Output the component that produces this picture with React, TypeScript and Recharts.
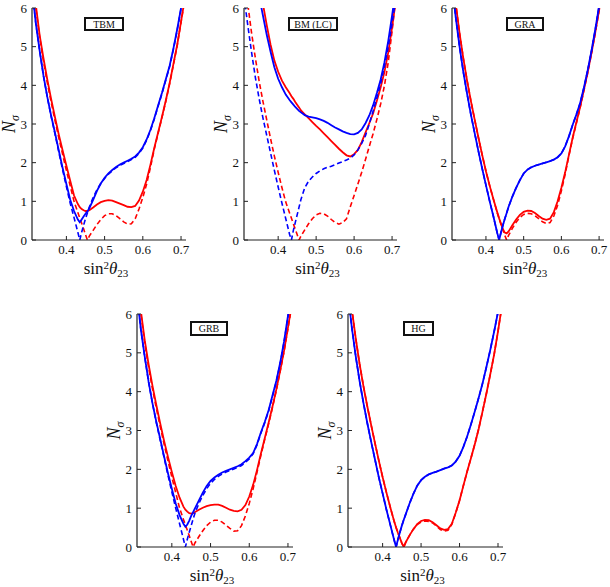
import React from "react";
import { Label, Line, LineChart, XAxis, YAxis } from "recharts";

// shared abscissa: sin^2(theta_23), with extra samples near the minima
const SIN2_TH23 = [
  0.31, 0.32, 0.33, 0.34, 0.35, 0.36, 0.37, 0.38, 0.39, 0.4, 0.41, 0.42, 0.43,
  0.435, 0.44, 0.445, 0.45, 0.455, 0.46, 0.47, 0.48, 0.49, 0.5, 0.51, 0.52,
  0.53, 0.54, 0.55, 0.56, 0.57, 0.58, 0.59, 0.6, 0.61, 0.62, 0.63, 0.64, 0.65,
  0.66, 0.67, 0.68, 0.69, 0.7, 0.71,
];
const X_TICKS = [0.4, 0.5, 0.6, 0.7];
const Y_TICKS = [0, 1, 2, 3, 4, 5, 6];

// TBM
const TBM_RED_SOLID = [6.9, 6.08, 5.3, 4.7, 4.15, 3.65, 3.18, 2.73, 2.32, 1.92, 1.53, 1.15, 0.93, 0.85, 0.8, 0.77, 0.75, 0.75, 0.77, 0.84, 0.92, 0.98, 1.01, 1.03, 1.02, 0.98, 0.94, 0.9, 0.86, 0.85, 0.88, 1.02, 1.25, 1.55, 1.95, 2.38, 2.78, 3.18, 3.6, 4.05, 4.55, 5.05, 5.65, 6.25];
const TBM_RED_DASHED = [6.8, 6.0, 5.25, 4.62, 4.07, 3.57, 3.1, 2.65, 2.22, 1.8, 1.4, 1.0, 0.71, 0.57, 0.43, 0.29, 0.14, 0.0, 0.1, 0.25, 0.4, 0.53, 0.63, 0.68, 0.68, 0.63, 0.55, 0.47, 0.41, 0.42, 0.55, 0.8, 1.1, 1.45, 1.88, 2.35, 2.76, 3.16, 3.58, 4.03, 4.53, 5.03, 5.63, 6.23];
const TBM_BLUE_SOLID = [6.5, 5.6, 4.9, 4.25, 3.7, 3.22, 2.78, 2.32, 1.87, 1.45, 1.04, 0.75, 0.53, 0.46, 0.53, 0.61, 0.68, 0.74, 0.82, 1.04, 1.27, 1.46, 1.61, 1.72, 1.81, 1.89, 1.95, 2.0, 2.05, 2.1, 2.16, 2.26, 2.4, 2.6, 2.85, 3.15, 3.48, 3.8, 4.15, 4.5, 4.95, 5.45, 6.0, 6.6];
const TBM_BLUE_DASHED = [6.5, 5.6, 4.9, 4.25, 3.7, 3.2, 2.75, 2.28, 1.82, 1.38, 0.95, 0.58, 0.2, 0.0, 0.2, 0.38, 0.55, 0.7, 0.85, 1.1, 1.3, 1.46, 1.59, 1.7, 1.79, 1.87, 1.93, 1.98, 2.03, 2.08, 2.14, 2.24, 2.38, 2.58, 2.83, 3.13, 3.46, 3.78, 4.13, 4.48, 4.93, 5.43, 5.98, 6.58];

// BM (LC)
const BM_RED_SOLID = [9.8, 8.9, 8.0, 7.2, 6.55, 6.1, 5.55, 5.05, 4.64, 4.35, 4.12, 3.95, 3.8, 3.72, 3.65, 3.57, 3.5, 3.43, 3.35, 3.25, 3.15, 3.05, 2.95, 2.86, 2.76, 2.66, 2.56, 2.46, 2.36, 2.27, 2.19, 2.16, 2.22, 2.33, 2.53, 2.78, 3.02, 3.27, 3.6, 3.95, 4.35, 4.85, 5.5, 6.2];
const BM_RED_DASHED = [6.9, 6.1, 5.35, 4.7, 4.1, 3.58, 3.1, 2.62, 2.17, 1.75, 1.35, 0.98, 0.7, 0.56, 0.42, 0.28, 0.14, 0.0, 0.1, 0.26, 0.42, 0.55, 0.65, 0.69, 0.68, 0.62, 0.53, 0.45, 0.41, 0.45, 0.55, 0.86, 1.15, 1.45, 1.75, 2.08, 2.42, 2.75, 3.12, 3.52, 4.0, 4.6, 5.4, 6.3];
const BM_BLUE_SOLID = [9.3, 8.4, 7.6, 6.9, 6.3, 5.8, 5.3, 4.87, 4.47, 4.17, 3.95, 3.76, 3.62, 3.56, 3.5, 3.44, 3.39, 3.34, 3.3, 3.23, 3.19, 3.17, 3.15, 3.12, 3.08, 3.03, 2.97, 2.91, 2.86, 2.81, 2.77, 2.74, 2.73, 2.77, 2.86, 3.02, 3.22, 3.48, 3.8, 4.15, 4.6, 5.15, 5.8, 6.5];
const BM_BLUE_DASHED = [6.3, 5.55, 4.85, 4.2, 3.65, 3.15, 2.7, 2.25, 1.8, 1.37, 0.95, 0.55, 0.15, 0.0, 0.25, 0.45, 0.65, 0.85, 1.05, 1.35, 1.52, 1.63, 1.72, 1.79, 1.84, 1.88, 1.91, 1.95, 1.99, 2.03, 2.07, 2.12, 2.2, 2.33, 2.5, 2.7, 3.0, 3.33, 3.68, 4.05, 4.5, 5.0, 5.6, 6.25];

// GRA
const GRA_RED_SOLID = [7.0, 6.1, 5.35, 4.7, 4.12, 3.6, 3.12, 2.65, 2.2, 1.78, 1.4, 1.05, 0.72, 0.56, 0.42, 0.28, 0.19, 0.17, 0.22, 0.38, 0.53, 0.65, 0.73, 0.76, 0.75, 0.7, 0.62, 0.55, 0.52, 0.55, 0.72, 1.0, 1.35, 1.75, 2.2, 2.65, 3.05, 3.45, 3.9, 4.35, 4.85, 5.38, 5.95, 6.55];
const GRA_RED_DASHED = [7.0, 6.1, 5.35, 4.7, 4.12, 3.6, 3.12, 2.65, 2.2, 1.78, 1.4, 1.05, 0.7, 0.55, 0.4, 0.26, 0.12, 0.0, 0.12, 0.3, 0.46, 0.58, 0.66, 0.69, 0.68, 0.63, 0.55, 0.47, 0.43, 0.45, 0.62, 0.9, 1.27, 1.7, 2.18, 2.63, 3.03, 3.43, 3.88, 4.33, 4.83, 5.36, 5.93, 6.53];
const GRA_BLUE_SOLID = [6.6, 5.75, 5.0, 4.35, 3.78, 3.25, 2.77, 2.3, 1.85, 1.42, 1.0, 0.6, 0.18, 0.0, 0.2, 0.38, 0.55, 0.7, 0.86, 1.12, 1.35, 1.55, 1.72, 1.82, 1.88, 1.92, 1.95, 1.98, 2.01, 2.04, 2.08, 2.14, 2.24, 2.42, 2.68, 2.98, 3.25, 3.55, 3.95, 4.4, 4.9, 5.45, 6.05, 6.7];
const GRA_BLUE_DASHED = GRA_BLUE_SOLID;

// GRB
const GRB_RED_SOLID = [6.9, 6.08, 5.32, 4.7, 4.15, 3.65, 3.18, 2.73, 2.32, 1.93, 1.57, 1.27, 1.04, 0.96, 0.91, 0.87, 0.86, 0.87, 0.9, 0.96, 1.01, 1.05, 1.08, 1.09, 1.09, 1.06, 1.01, 0.96, 0.93, 0.92, 0.96, 1.08, 1.3, 1.6, 1.98, 2.4, 2.8, 3.2, 3.62, 4.06, 4.55, 5.06, 5.65, 6.25];
const GRB_RED_DASHED = [6.8, 6.0, 5.25, 4.62, 4.07, 3.57, 3.1, 2.65, 2.22, 1.8, 1.4, 1.0, 0.71, 0.57, 0.43, 0.29, 0.14, 0.0, 0.11, 0.27, 0.42, 0.55, 0.64, 0.69, 0.69, 0.64, 0.56, 0.48, 0.41, 0.42, 0.55, 0.8, 1.12, 1.5, 1.92, 2.36, 2.77, 3.17, 3.59, 4.04, 4.53, 5.04, 5.63, 6.23];
const GRB_BLUE_SOLID = [6.5, 5.6, 4.9, 4.25, 3.7, 3.22, 2.78, 2.33, 1.9, 1.5, 1.12, 0.82, 0.6, 0.52, 0.58, 0.68, 0.8, 0.9, 1.0, 1.2, 1.4, 1.57, 1.7, 1.79, 1.86, 1.92, 1.96, 2.0, 2.04, 2.08, 2.13, 2.21, 2.3, 2.42, 2.65, 2.95, 3.22, 3.52, 3.9, 4.28, 4.75, 5.3, 5.95, 6.6];
const GRB_BLUE_DASHED = [6.5, 5.6, 4.9, 4.25, 3.7, 3.2, 2.75, 2.3, 1.85, 1.42, 1.0, 0.6, 0.2, 0.0, 0.2, 0.38, 0.55, 0.72, 0.88, 1.12, 1.33, 1.5, 1.64, 1.74, 1.82, 1.88, 1.93, 1.97, 2.01, 2.05, 2.1, 2.18, 2.27, 2.4, 2.63, 2.93, 3.2, 3.5, 3.88, 4.26, 4.73, 5.28, 5.93, 6.58];

// HG
const HG_RED_SOLID = [7.0, 6.12, 5.38, 4.72, 4.15, 3.63, 3.15, 2.68, 2.23, 1.8, 1.4, 1.02, 0.66, 0.5, 0.36, 0.23, 0.1, 0.0, 0.12, 0.3, 0.46, 0.59, 0.67, 0.7, 0.69, 0.64, 0.56, 0.48, 0.44, 0.46, 0.6, 0.88, 1.2, 1.58, 1.95, 2.3, 2.66, 3.05, 3.5, 3.96, 4.45, 4.96, 5.55, 6.2];
const HG_RED_DASHED = [7.0, 6.12, 5.38, 4.72, 4.15, 3.63, 3.15, 2.68, 2.23, 1.8, 1.4, 1.02, 0.66, 0.5, 0.36, 0.23, 0.1, 0.0, 0.12, 0.3, 0.46, 0.58, 0.64, 0.67, 0.66, 0.62, 0.54, 0.45, 0.41, 0.43, 0.58, 0.87, 1.2, 1.58, 1.95, 2.3, 2.66, 3.05, 3.5, 3.96, 4.45, 4.96, 5.55, 6.2];
const HG_BLUE_SOLID = [6.5, 5.65, 4.92, 4.28, 3.72, 3.2, 2.72, 2.26, 1.8, 1.38, 0.96, 0.57, 0.18, 0.0, 0.2, 0.38, 0.55, 0.7, 0.84, 1.12, 1.37, 1.58, 1.72, 1.81, 1.87, 1.91, 1.94, 1.98, 2.02, 2.05, 2.1, 2.2, 2.35, 2.58, 2.85, 3.17, 3.5, 3.85, 4.22, 4.64, 5.08, 5.55, 6.05, 6.6];
const HG_BLUE_DASHED = HG_BLUE_SOLID;

const SERIF = "Liberation Serif, Times New Roman, serif";
const RED = "#ff0000";
const BLUE = "#0000ff";
const FRAME = "#222";
const DASH = "5 3";

const ML = 40;
const MT = 8;
const MR = 6;
const MB = 40;

type Rect = { l: number; t: number; r: number; b: number };

const XTitle = (props: any) => {
  const { x, y, width } = props.viewBox;
  return (
    <text x={x + width / 2 - 3} y={y + 34} textAnchor="middle" fontFamily={SERIF} fontSize={17} fill="#111">
      sin
      <tspan dy={-5} fontSize={11}>2</tspan>
      <tspan dy={5} fontStyle="italic">θ</tspan>
      <tspan dy={3} fontSize={11}>23</tspan>
    </text>
  );
};

const YTitle = (props: any) => {
  const { x, y, width, height } = props.viewBox;
  const cx = x + width - 22;
  const cy = y + height / 2;
  return (
    <text
      x={cx}
      y={cy}
      dy={5}
      transform={`rotate(-90, ${cx}, ${cy})`}
      textAnchor="middle"
      fontFamily={SERIF}
      fontSize={18}
      fill="#111"
    >
      <tspan fontStyle="italic">N</tspan>
      <tspan fontStyle="italic" fontSize={12} dy={4}>σ</tspan>
    </text>
  );
};

function Panel({
  name,
  box,
  legend,
  redSolid,
  redDashed,
  blueSolid,
  blueDashed,
}: {
  name: string;
  box: Rect;
  legend: Rect;
  redSolid: number[];
  redDashed: number[];
  blueSolid: number[];
  blueDashed: number[];
}) {
  const rows = SIN2_TH23.map((x, i) => ({
    x,
    rs: redSolid[i],
    rd: redDashed[i],
    bs: blueSolid[i],
    bd: blueDashed[i],
  }));
  const w = box.r - box.l + ML + MR;
  const h = box.b - box.t + MT + MB;
  const tickFont = { fill: "#111", fontSize: 13, fontFamily: SERIF };
  const axisLine = { stroke: FRAME, strokeWidth: 1.2 };
  return (
    <>
      <div style={{ position: "absolute", left: box.l - ML, top: box.t - MT }}>
        <LineChart width={w} height={h} data={rows} margin={{ top: MT, right: MR, bottom: 0, left: 0 }}>
          <XAxis
            dataKey="x"
            type="number"
            domain={[0.31, 0.713]}
            ticks={X_TICKS}
            allowDataOverflow
            height={MB}
            tickSize={-4}
            tickMargin={9}
            tickFormatter={(v: number) => v.toFixed(1)}
            tick={tickFont}
            axisLine={axisLine}
            tickLine={{ stroke: FRAME }}
          >
            <Label content={XTitle} />
          </XAxis>
          <XAxis
            xAxisId="top"
            orientation="top"
            type="number"
            domain={[0.31, 0.713]}
            ticks={X_TICKS}
            allowDataOverflow
            height={0}
            tickSize={-4}
            tick={false}
            axisLine={axisLine}
            tickLine={{ stroke: FRAME }}
          />
          <YAxis
            type="number"
            domain={[0, 6]}
            ticks={Y_TICKS}
            allowDataOverflow
            width={ML}
            tickSize={-4}
            tickMargin={9}
            tick={tickFont}
            axisLine={axisLine}
            tickLine={{ stroke: FRAME }}
          >
            <Label content={YTitle} />
          </YAxis>
          <YAxis
            yAxisId="right"
            orientation="right"
            type="number"
            domain={[0, 6]}
            ticks={Y_TICKS}
            allowDataOverflow
            width={0}
            tickSize={-4}
            tick={false}
            axisLine={axisLine}
            tickLine={{ stroke: FRAME }}
          />
          <Line dataKey="rs" type="linear" stroke={RED} strokeWidth={1.8} dot={false} isAnimationActive={false} />
          <Line dataKey="rd" type="linear" stroke={RED} strokeWidth={1.6} strokeDasharray={DASH} dot={false} isAnimationActive={false} />
          <Line dataKey="bs" type="linear" stroke={BLUE} strokeWidth={1.8} dot={false} isAnimationActive={false} />
          <Line dataKey="bd" type="linear" stroke={BLUE} strokeWidth={1.6} strokeDasharray={DASH} dot={false} isAnimationActive={false} />
        </LineChart>
      </div>
      <div
        style={{
          position: "absolute",
          left: legend.l,
          top: legend.t,
          width: legend.r - legend.l,
          height: legend.b - legend.t,
          boxSizing: "border-box",
          border: "2px solid #111",
          background: "#fff",
          display: "flex",
          alignItems: "center",
          justifyContent: "center",
          fontFamily: SERIF,
          fontSize: 10,
          color: "#111",
          whiteSpace: "nowrap",
        }}
      >
        {name}
      </div>
    </>
  );
}

export default function App() {
  return (
    <div style={{ position: "absolute", left: 0, top: 0, width: 610, height: 587, background: "#fff", overflow: "hidden" }}>
      <Panel
        name="TBM"
        box={{ l: 32, t: 8, r: 186, b: 240 }}
        legend={{ l: 84, t: 17, r: 124, b: 31 }}
        redSolid={TBM_RED_SOLID}
        redDashed={TBM_RED_DASHED}
        blueSolid={TBM_BLUE_SOLID}
        blueDashed={TBM_BLUE_DASHED}
      />
      <Panel
        name="BM (LC)"
        box={{ l: 244, t: 8, r: 397, b: 240 }}
        legend={{ l: 288, t: 17, r: 338, b: 31 }}
        redSolid={BM_RED_SOLID}
        redDashed={BM_RED_DASHED}
        blueSolid={BM_BLUE_SOLID}
        blueDashed={BM_BLUE_DASHED}
      />
      <Panel
        name="GRA"
        box={{ l: 452, t: 8, r: 604, b: 240 }}
        legend={{ l: 506, t: 17, r: 544, b: 31 }}
        redSolid={GRA_RED_SOLID}
        redDashed={GRA_RED_DASHED}
        blueSolid={GRA_BLUE_SOLID}
        blueDashed={GRA_BLUE_DASHED}
      />
      <Panel
        name="GRB"
        box={{ l: 137, t: 314, r: 293, b: 547 }}
        legend={{ l: 190, t: 321, r: 228, b: 336 }}
        redSolid={GRB_RED_SOLID}
        redDashed={GRB_RED_DASHED}
        blueSolid={GRB_BLUE_SOLID}
        blueDashed={GRB_BLUE_DASHED}
      />
      <Panel
        name="HG"
        box={{ l: 348, t: 314, r: 503, b: 547 }}
        legend={{ l: 403, t: 321, r: 434, b: 336 }}
        redSolid={HG_RED_SOLID}
        redDashed={HG_RED_DASHED}
        blueSolid={HG_BLUE_SOLID}
        blueDashed={HG_BLUE_DASHED}
      />
    </div>
  );
}
